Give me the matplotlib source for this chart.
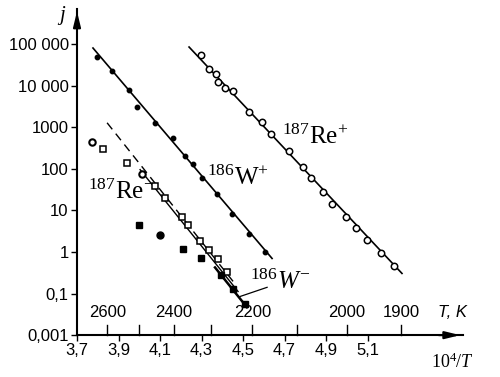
import numpy as np
import matplotlib
matplotlib.use("Agg")
import matplotlib.pyplot as plt
from matplotlib.transforms import blended_transform_factory

plt.rcParams['font.family'] = ['Liberation Sans', 'DejaVu Sans']
plt.rcParams['mathtext.fontset'] = 'custom'
plt.rcParams['mathtext.rm'] = 'Liberation Serif'
plt.rcParams['mathtext.it'] = 'Liberation Serif:italic'

# 10^4/T and log10(j)
w_plus_x = [3.796, 3.869, 3.951, 3.989, 4.076, 4.163, 4.220, 4.259, 4.302, 4.375, 4.447, 4.529, 4.606]
w_plus_lg = [4.688, 4.353, 3.897, 3.489, 3.106, 2.746, 2.314, 2.122, 1.787, 1.403, 0.923, 0.444, -0.012]
w_plus_fit_x = [3.777, 4.640]
w_plus_fit_lg = [4.904, -0.156]

re_plus_x = [4.298, 4.336, 4.370, 4.380, 4.413, 4.452, 4.529, 4.592, 4.635, 4.722,
             4.789, 4.828, 4.886, 4.929, 4.996, 5.045, 5.098, 5.165, 5.228]
re_plus_lg = [4.736, 4.400, 4.281, 4.089, 3.945, 3.873, 3.369, 3.129, 2.842, 2.434,
              2.050, 1.787, 1.451, 1.163, 0.851, 0.588, 0.276, -0.036, -0.348]
re_plus_fit_x = [4.240, 5.266]
re_plus_fit_lg = [4.928, -0.516]

re_minus_x = [3.825, 3.941, 4.076, 4.124, 4.206, 4.235, 4.293, 4.336, 4.380, 4.423]
re_minus_lg = [2.482, 2.146, 1.595, 1.307, 0.851, 0.659, 0.252, 0.036, -0.180, -0.492]
re_minus_circ_x = [3.772, 4.013]
re_minus_circ_lg = [2.650, 1.882]
re_minus_fit_x = [4.004, 4.476]
re_minus_fit_lg = [1.98, -0.95]
dashed_fit_x = [3.845, 4.452]
dashed_fit_lg = [3.106, -0.707]

w_minus_x = [4.394, 4.452, 4.510]
w_minus_lg = [-0.564, -0.899, -1.259]
w_minus_fit_x = [4.365, 4.519]
w_minus_fit_lg = [-0.372, -1.33]

other_sq_x = [3.999, 4.211, 4.298]
other_sq_lg = [0.659, 0.060, -0.156]
other_circ_x = [4.100]
other_circ_lg = [0.420]

x_ticks = [3.7, 3.9, 4.1, 4.3, 4.5, 4.7, 4.9, 5.1]
x_labels = ['3,7', '3,9', '4,1', '4,3', '4,5', '4,7', '4,9', '5,1']
y_ticks = [1e-2, 1e-1, 1, 10, 100, 1000, 1e4, 1e5]
y_labels = ['0,001', '0,1', '1', '10', '100', '1000', '10 000', '100 000']
temp_ticks = [2600, 2500, 2400, 2300, 2200, 2100, 2000, 1900]
temp_labels = [2600, 2400, 2200, 2000, 1900]


def p(v):
    return 10 ** np.asarray(v)


fig = plt.figure(figsize=(5.0, 3.77), dpi=100)
ax = fig.add_axes([0.154, 0.111, 0.772, 0.866])
ax.set_yscale('log')
ax.set_xlim(3.7, 5.56)
ax.set_ylim(1e-2, 10 ** 5.85)

k = 'black'
ax.plot(w_plus_fit_x, p(w_plus_fit_lg), color=k, lw=1.2)
ax.plot(re_plus_fit_x, p(re_plus_fit_lg), color=k, lw=1.2)
ax.plot(re_minus_fit_x, p(re_minus_fit_lg), color=k, lw=1.0)
ax.plot(dashed_fit_x, p(dashed_fit_lg), color=k, lw=1.0, ls=(0, (6, 4)))
ax.plot(w_minus_fit_x, p(w_minus_fit_lg), color=k, lw=1.8)

ax.plot(w_plus_x, p(w_plus_lg), 'o', color=k, ms=3.2)
ax.plot(re_plus_x, p(re_plus_lg), 'o', mfc='white', mec=k, mew=1.1, ms=4.6)
ax.plot(re_minus_x, p(re_minus_lg), 's', mfc='white', mec=k, mew=1.1, ms=4.4)
ax.plot(re_minus_circ_x, p(re_minus_circ_lg), 'o', mfc='white', mec=k, mew=1.5, ms=4.6)
ax.plot(w_minus_x, p(w_minus_lg), 's', color=k, ms=3.8)
ax.plot(other_sq_x, p(other_sq_lg), 's', color=k, ms=3.8)
ax.plot(other_circ_x, p(other_circ_lg), 'o', color=k, ms=5)

# labels of the lines
ax.text(4.688, p(2.77), r'$^{187}\mathrm{Re}^{+}$', fontsize=18, va='center')
ax.text(4.327, p(1.79), r'$^{186}\mathrm{W}^{+}$', fontsize=18, va='center')
ax.text(3.753, p(1.45), r'$^{187}\mathrm{Re}^{-}$', fontsize=18, va='center')
ax.text(4.534, p(-0.73), r'$^{186}\mathit{W}^{-}$', fontsize=18, va='center')
ax.plot([4.616, 4.486], p([-0.85, -1.07]), color=k, lw=0.9)

# temperature scale drawn on the axis
tr = blended_transform_factory(ax.transData, ax.transAxes)
for t in temp_ticks:
    ax.plot([1e4 / t] * 2, [0, 0.03], color=k, lw=1.0, transform=tr, clip_on=False)
for t in temp_labels:
    ax.text(1e4 / t, 0.07, str(t), transform=tr, ha='center', va='center', fontsize=12)
ax.text(5.508, 0.07, 'T, K', transform=tr, ha='center', va='center', fontsize=12,
        style='italic')

ax.set_xticks(x_ticks)
ax.set_xticklabels(x_labels)
ax.set_yticks(y_ticks)
ax.set_yticklabels(y_labels)
ax.minorticks_off()
ax.tick_params(axis='both', direction='out', length=4, width=1.0, labelsize=12, pad=2)

for s in ['top', 'right']:
    ax.spines[s].set_visible(False)
for s in ['left', 'bottom']:
    ax.spines[s].set_linewidth(1.5)

ax.annotate('', xy=(1.0, 0), xytext=(0.93, 0), xycoords='axes fraction',
            arrowprops=dict(arrowstyle='-|>,head_length=0.9,head_width=0.22', color=k, lw=1.5))
ax.annotate('', xy=(0, 1.0), xytext=(0, 0.93), xycoords='axes fraction',
            arrowprops=dict(arrowstyle='-|>,head_length=0.9,head_width=0.22', color=k, lw=1.5))

fig.text(0.124, 0.96, r'$j$', fontsize=15, ha='center', va='center')
fig.text(0.905, 0.04, r'$10^4/T$', fontsize=13, ha='center', va='center')

fig.savefig('out.png', dpi=100)
